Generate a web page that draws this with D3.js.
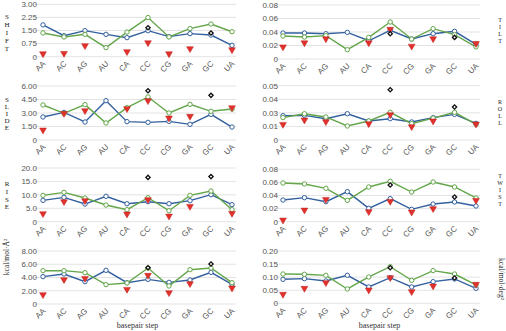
<!DOCTYPE html>
<html><head><meta charset="utf-8">
<script src="https://cdn.jsdelivr.net/npm/d3@7"></script>
<style>body{margin:0;background:#fff}svg{display:block}</style>
</head><body>
<svg id="c" width="506" height="331"></svg>
<script>
const categories = ["AA","AC","AG","AU","CA","CC","CG","GA","GC","UA"];

const shiftBlue  = [1.82,1.20,1.49,1.28,1.09,1.49,1.15,1.32,1.24,0.65];
const shiftGreen = [1.36,1.13,1.28,0.52,1.41,2.24,1.13,1.61,1.87,1.43];
const shiftRed   = [0.17,0.19,0.63,null,0.29,0.80,0.17,0.46,null,0.40];
const shiftBlack = [null,null,null,null,null,1.66,null,null,1.36,null];
const shiftTicks = ["0","0.75","1.50","2.25","3.00"];

const tiltBlue  = [0.0385,0.0385,0.0375,0.0395,0.027,0.0425,0.0296,0.0375,0.041,0.0217];
const tiltGreen = [0.034,0.0326,0.0346,0.0138,0.032,0.0548,0.0296,0.045,0.036,0.018];
const tiltRed   = [0.018,0.024,0.030,null,0.024,0.044,0.019,0.030,null,0.023];
const tiltBlack = [null,null,null,null,null,0.0375,null,null,0.032,null];
const tiltTicks = ["0","0.02","0.04","0.06","0.08"];

const slideBlue  = [2.56,3.07,2.00,4.37,2.04,1.96,2.07,1.74,2.85,1.44];
const slideGreen = [3.89,2.96,3.93,1.89,3.59,4.78,3.00,3.96,3.19,3.44];
const slideRed   = [1.11,2.95,3.26,null,3.48,4.37,2.44,2.63,null,3.59];
const slideBlack = [null,null,null,null,null,5.48,null,null,4.96,null];
const slideTicks = ["0","1.50","3.00","4.50","6.00"];

const rollBlue  = [0.0224,0.0227,0.0196,0.0242,0.0175,0.0196,0.0166,0.0206,0.0236,0.0153];
const rollGreen = [0.0206,0.0242,0.0212,0.0129,0.0175,0.0255,0.0150,0.0202,0.0255,0.0144];
const rollRed   = [0.0144,0.0184,0.0169,null,0.0150,0.0233,0.0123,0.0175,null,0.0147];
const rollBlack = [null,null,null,null,null,0.0463,null,null,0.0304,null];
const rollTicks = ["0","0.01","0.03","0.04","0.05"];

const riseBlue  = [7.95,9.07,6.58,9.44,6.70,7.45,6.70,7.83,10.06,6.34];
const riseGreen = [9.81,10.93,8.82,6.21,4.47,8.94,4.10,9.81,11.43,4.47];
const riseRed   = [2.98,7.45,7.83,null,2.86,8.2,2.10,5.70,null,3.10];
const riseBlack = [null,null,null,null,null,16.5,null,null,16.8,null];
const riseTicks = ["0","5.0","10.0","15.0","20.0"];

const twistBlue  = [0.0331,0.0367,0.0306,0.0459,0.0204,0.0352,0.0189,0.0270,0.0301,0.0240];
const twistGreen = [0.0591,0.0576,0.0510,0.0326,0.0530,0.0617,0.0453,0.0606,0.0530,0.0362];
const twistRed   = [0.0025,0.0178,0.0340,null,0.0153,0.0310,0.0148,0.0199,null,0.0326];
const twistBlack = [null,null,null,null,null,0.0560,null,null,0.0377,null];
const twistTicks = ["0","0.02","0.04","0.06","0.08"];

const eTransBlue  = [4.13,4.53,3.37,5.08,3.22,3.72,3.27,3.62,4.78,2.97];
const eTransGreen = [5.03,5.03,4.73,2.92,3.17,5.43,2.72,5.18,5.43,3.22];
const eTransRed   = [1.41,3.67,3.87,null,2.21,4.33,1.71,3.07,null,2.42];
const eTransBlack = [null,null,null,null,null,5.48,null,null,6.04,null];
const eTransTicks = ["0","2.00","4.00","6.00","8.00"];

const eRotBlue  = [0.0917,0.0943,0.0854,0.107,0.0624,0.098,0.0624,0.0828,0.093,0.0573];
const eRotGreen = [0.112,0.111,0.107,0.0548,0.1006,0.140,0.0879,0.125,0.112,0.070];
const eRotRed   = [0.0344,0.0573,0.079,null,0.051,0.098,0.0446,0.066,null,0.0726];
const eRotBlack = [null,null,null,null,null,0.136,null,null,0.097,null];
const eRotTicks = ["0","0.05","0.10","0.15","0.20"];

const panels = [
  {col:0, y0:56.7, y1:4.3, max:3.0, blue:shiftBlue, green:shiftGreen, red:shiftRed, black:shiftBlack, ticks:shiftTicks, label:"SHIFT", ls:8.2, ly:16},
  {col:1, y0:59, y1:5, max:0.08, blue:tiltBlue, green:tiltGreen, red:tiltRed, black:tiltBlack, ticks:tiltTicks, label:"TILT", ls:7, ly:19},
  {col:0, y0:140, y1:86, max:6.0, blue:slideBlue, green:slideGreen, red:slideRed, black:slideBlack, ticks:slideTicks, label:"SLIDE", ls:7, ly:99},
  {col:1, y0:140, y1:85.7, max:0.05, blue:rollBlue, green:rollGreen, red:rollRed, black:rollBlack, ticks:rollTicks, label:"ROLL", ls:7, ly:101},
  {col:0, y0:221.7, y1:168, max:20, blue:riseBlue, green:riseGreen, red:riseRed, black:riseBlack, ticks:riseTicks, label:"RISE", ls:7.8, ly:183.5},
  {col:1, y0:221.7, y1:169.3, max:0.08, blue:twistBlue, green:twistGreen, red:twistRed, black:twistBlack, ticks:twistTicks, label:"TWIST", ls:7, ly:175},
  {col:0, y0:304, y1:251, max:8, blue:eTransBlue, green:eTransGreen, red:eTransRed, black:eTransBlack, ticks:eTransTicks, unit:"kcal/mol·Å²"},
  {col:1, y0:303.3, y1:251, max:0.2, blue:eRotBlue, green:eRotGreen, red:eRotRed, black:eRotBlack, ticks:eRotTicks, unit:"kcal/mol·deg²"}
];

const svg = d3.select("#c");
const BLUE = "#33609e", GREEN = "#64a64a", RED = "#e2302c", GRID = "#dcdcdc", TXT = "#555";
const xRanges = [[43,232],[283,476]];
const tickRight = [37,278];

panels.forEach((p,i) => {
  const g = svg.append("g");
  const x = d3.scalePoint().domain(categories).range(xRanges[p.col]);
  const y = d3.scaleLinear().domain([0,p.max]).range([p.y0,p.y1]);
  const tv = d3.range(5).map(k => p.max*k/4);
  const gx0 = xRanges[p.col][0]-9, gx1 = xRanges[p.col][1]+4;
  g.selectAll(".grid").data(tv).join("line")
    .attr("x1",gx0).attr("x2",gx1)
    .attr("y1",d=>y(d)).attr("y2",d=>y(d))
    .attr("stroke",GRID).attr("stroke-width",0.8);
  g.selectAll(".yt").data(tv).join("text")
    .attr("x",tickRight[p.col]).attr("y",d=>y(d)+2.8)
    .attr("text-anchor","end").attr("font-family","Liberation Sans, Arial, sans-serif")
    .attr("font-size",8).attr("fill",TXT)
    .text((d,k)=>p.ticks[k]);
  g.selectAll(".xt").data(categories).join("text")
    .attr("transform",d=>`translate(${x(d)+3},${p.y0+7.5}) rotate(-45)`)
    .attr("text-anchor","end").attr("font-family","Liberation Sans, Arial, sans-serif")
    .attr("font-size",8).attr("fill",TXT).text(d=>d);
  const line = d3.line().x((d,k)=>x(categories[k])).y(d=>y(d));
  [[p.blue,BLUE],[p.green,GREEN]].forEach(([arr,col])=>{
    g.append("path").attr("d",line(arr)).attr("fill","none").attr("stroke",col).attr("stroke-width",1.4);
  });
  [[p.blue,BLUE],[p.green,GREEN]].forEach(([arr,col])=>{
    g.selectAll(null).data(arr).join("circle")
      .attr("cx",(d,k)=>x(categories[k])).attr("cy",d=>y(d)).attr("r",2.2)
      .attr("fill","#fff").attr("stroke",col).attr("stroke-width",1);
  });
  const tri = d3.symbol().type(d3.symbolTriangle).size(20);
  g.selectAll(null).data(categories.map((c,k)=>({c,v:p.red[k]})).filter(d=>d.v!=null)).join("path")
    .attr("d",tri).attr("transform",d=>`translate(${x(d.c)},${y(d.v)}) rotate(180)`)
    .attr("fill",RED).attr("stroke","#c0221f").attr("stroke-width",0.5);
  const dia = d3.symbol().type(d3.symbolSquare).size(9);
  g.selectAll(null).data(categories.map((c,k)=>({c,v:p.black[k]})).filter(d=>d.v!=null)).join("path")
    .attr("d",dia).attr("transform",d=>`translate(${x(d.c)},${y(d.v)}) rotate(45)`)
    .attr("fill","#fff").attr("stroke","#111").attr("stroke-width",1.3);
  if (p.label) {
    const lx = p.col===0 ? 7 : 500;
    const t = g.append("text").attr("text-anchor","middle")
      .attr("font-family","Liberation Serif, Times New Roman, serif")
      .attr("font-size",p.col===0?7:6).attr("fill","#222");
    t.selectAll("tspan").data(p.label.split("")).join("tspan")
      .attr("x",lx).attr("y",(d,k)=>p.ly+k*p.ls+2.5).text(d=>d);
  }
  if (p.unit) {
    if (p.col===0) {
      g.append("text").attr("transform","translate(9,257) rotate(-90)")
        .attr("text-anchor","middle").attr("font-family","Liberation Serif, Times New Roman, serif")
        .attr("font-size",7.5).attr("fill","#222").text(p.unit);
    } else {
      g.append("text").attr("transform","translate(499,279) rotate(90)")
        .attr("text-anchor","middle").attr("font-family","Liberation Serif, Times New Roman, serif")
        .attr("font-size",7.5).attr("fill","#222").text(p.unit);
    }
    g.append("text").attr("x",(xRanges[p.col][0]+xRanges[p.col][1])/2).attr("y",328)
      .attr("text-anchor","middle").attr("font-family","Liberation Serif, Times New Roman, serif")
      .attr("font-size",8).attr("fill","#333").text("basepair step");
  }
});
</script>
</body></html>
